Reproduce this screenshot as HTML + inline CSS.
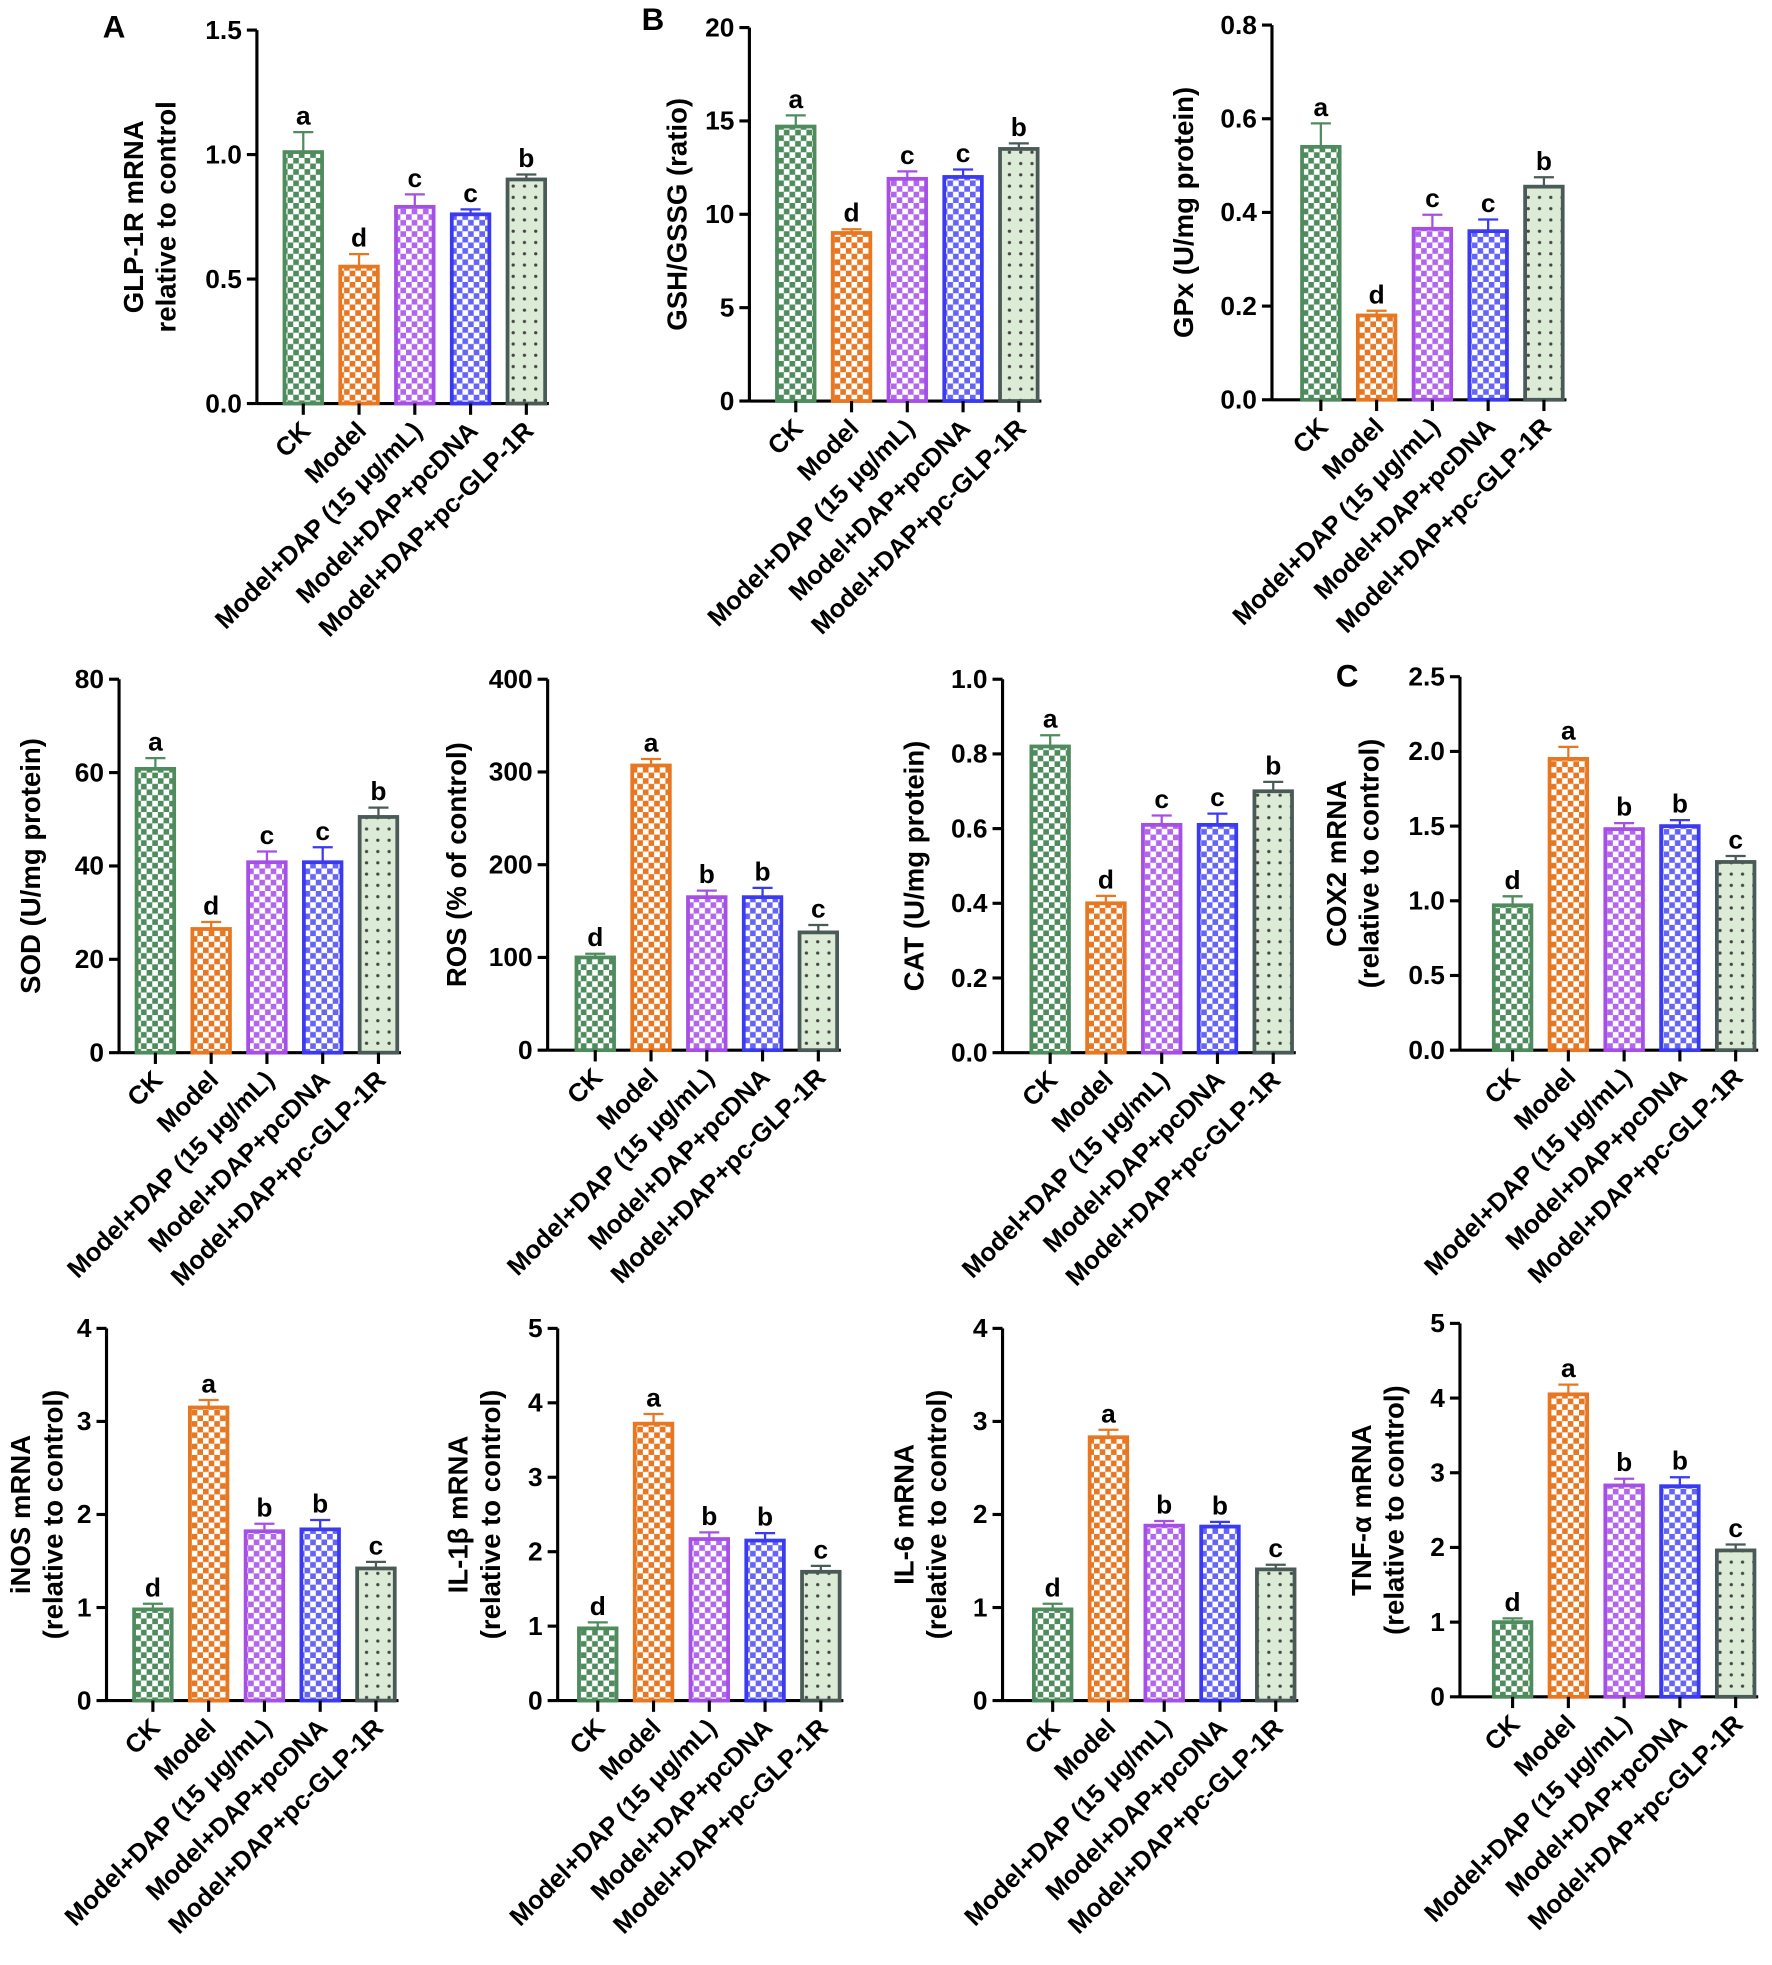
<!DOCTYPE html>
<html><head><meta charset="utf-8"><style>
html,body{margin:0;padding:0;background:#fff}
svg{display:block}
text{font-family:"Liberation Sans",Arial,sans-serif;font-weight:bold;fill:#000}
</style></head><body>
<svg id="fig" width="1772" height="1965" viewBox="0 0 1414 1568" xmlns="http://www.w3.org/2000/svg">
<defs>
<pattern id="p0" width="9" height="9" patternUnits="userSpaceOnUse"><rect width="9" height="9" fill="#fff"/><rect width="4.5" height="4.5" fill="#4e8c5e"/><rect x="4.5" y="4.5" width="4.5" height="4.5" fill="#4e8c5e"/></pattern>
<pattern id="p1" width="9" height="9" patternUnits="userSpaceOnUse"><rect width="9" height="9" fill="#fff"/><rect width="4.5" height="4.5" fill="#e87722"/><rect x="4.5" y="4.5" width="4.5" height="4.5" fill="#e87722"/></pattern>
<pattern id="p2" width="9" height="9" patternUnits="userSpaceOnUse"><rect width="9" height="9" fill="#fff"/><rect width="4.5" height="4.5" fill="#b266ee"/><rect x="4.5" y="4.5" width="4.5" height="4.5" fill="#b266ee"/></pattern>
<pattern id="p3" width="9" height="9" patternUnits="userSpaceOnUse"><rect width="9" height="9" fill="#fff"/><rect width="4.5" height="4.5" fill="#6464f6"/><rect x="4.5" y="4.5" width="4.5" height="4.5" fill="#6464f6"/></pattern>
<pattern id="p4" width="9" height="9" patternUnits="userSpaceOnUse"><rect width="9" height="9" fill="#dcebd6"/><circle cx="4.5" cy="4.5" r="1.3" fill="#444"/></pattern>
</defs>
<text x="82" y="30" font-size="25">A</text>
<text x="512" y="24" font-size="25">B</text>
<text x="1066" y="548" font-size="25">C</text>
</svg>
<script>
const categories = ["CK","Model","Model+DAP (15 μg/mL)","Model+DAP+pcDNA","Model+DAP+pc-GLP-1R"];
const glpValues = [1.01,0.55,0.79,0.76,0.90];
const glpErrors = [0.08,0.05,0.05,0.02,0.02];
const glpLetters = ["a","d","c","c","b"];
const gshValues = [14.7,9.0,11.9,12.0,13.5];
const gshErrors = [0.6,0.2,0.4,0.4,0.3];
const gshLetters = ["a","d","c","c","b"];
const gpxValues = [0.54,0.18,0.365,0.36,0.455];
const gpxErrors = [0.05,0.01,0.03,0.025,0.02];
const gpxLetters = ["a","d","c","c","b"];
const sodValues = [60.8,26.5,40.8,40.8,50.5];
const sodErrors = [2.3,1.5,2.3,3.2,2.0];
const sodLetters = ["a","d","c","c","b"];
const rosValues = [100,307,165,165,127];
const rosErrors = [4,7,7,10,8];
const rosLetters = ["d","a","b","b","c"];
const catValues = [0.82,0.40,0.61,0.61,0.70];
const catErrors = [0.03,0.02,0.025,0.03,0.025];
const catLetters = ["a","d","c","c","b"];
const coxValues = [0.97,1.95,1.48,1.50,1.26];
const coxErrors = [0.06,0.08,0.04,0.04,0.04];
const coxLetters = ["d","a","b","b","c"];
const inosValues = [0.98,3.15,1.82,1.84,1.42];
const inosErrors = [0.06,0.08,0.08,0.1,0.07];
const inosLetters = ["d","a","b","b","c"];
const il1Values = [0.97,3.72,2.17,2.15,1.73];
const il1Errors = [0.08,0.13,0.09,0.1,0.08];
const il1Letters = ["d","a","b","b","c"];
const il6Values = [0.98,2.83,1.88,1.87,1.41];
const il6Errors = [0.06,0.08,0.05,0.05,0.05];
const il6Letters = ["d","a","b","b","c"];
const tnfValues = [1.0,4.05,2.83,2.82,1.96];
const tnfErrors = [0.05,0.13,0.09,0.12,0.08];
const tnfLetters = ["d","a","b","b","c"];
const glpTicks = ["0.0","0.5","1.0","1.5"];
const gshTicks = ["0","5","10","15","20"];
const gpxTicks = ["0.0","0.2","0.4","0.6","0.8"];
const sodTicks = ["0","20","40","60","80"];
const rosTicks = ["0","100","200","300","400"];
const catTicks = ["0.0","0.2","0.4","0.6","0.8","1.0"];
const coxTicks = ["0.0","0.5","1.0","1.5","2.0","2.5"];
const inosTicks = ["0","1","2","3","4"];
const il1Ticks = ["0","1","2","3","4","5"];
const il6Ticks = ["0","1","2","3","4"];
const tnfTicks = ["0","1","2","3","4","5"];

const strokes = ["#4e8c5e","#e87722","#a64fe6","#3a3af0","#4a5a56"];
const NS = "http://www.w3.org/2000/svg";
const svg = document.getElementById('fig');
function mk(tag, attrs, parent){const e=document.createElementNS(NS,tag);for(const k in attrs)e.setAttribute(k,attrs[k]);(parent||svg).appendChild(e);return e;}

function panel(cfg){
  const g = mk('g',{});
  
  
  const ticks = cfg.ticks, max = parseFloat(ticks[ticks.length-1]);
  const y = v => cfg.y0 - (v/max)*(cfg.y0-cfg.yTop);
  const x = i => cfg.x1 + i*44.5;
  const right = x(4)+18;
  const ya = mk('line',{x1:cfg.ax,y1:cfg.yTop,x2:cfg.ax,y2:cfg.y0,stroke:'#000','stroke-width':2.5},g);
  
  
  const xa = mk('line',{x1:cfg.ax,y1:cfg.y0,x2:right,y2:cfg.y0,stroke:'#000','stroke-width':2.5},g);
  
  
  ticks.forEach(t=>{
    const yy = y(parseFloat(t));
    mk('line',{x1:cfg.ax-8,y1:yy,x2:cfg.ax,y2:yy,stroke:'#000','stroke-width':2.5},g);
    const tl = mk('text',{x:cfg.ax-12,y:yy+7,'font-size':21,'text-anchor':'end'},g);
    tl.textContent = t;
    
    
  });
  const lines = cfg.title;
  const tx = cfg.ax - cfg.titleOff, ty = (cfg.yTop+cfg.y0)/2;
  lines.forEach((ln,k)=>{
    const off = (k - (lines.length-1)/2)*26;
    const tt = mk('text',{x:0,y:0,'font-size':22,'text-anchor':'middle',transform:`translate(${tx+off+7},${ty}) rotate(-90)`},g);
    tt.textContent = ln;
    
    
  });
  cfg.values.forEach((v,i)=>{
    const cx = x(i), bw = 30;
    const top = y(v), eTop = y(v+cfg.errors[i]);
    const el = mk('line',{x1:cx,y1:top,x2:cx,y2:eTop,stroke:strokes[i],'stroke-width':1.8},g);
    
    
    mk('line',{x1:cx-8,y1:eTop,x2:cx+8,y2:eTop,stroke:strokes[i],'stroke-width':1.8},g);
    const b = mk('rect',{x:cx-bw/2,y:top,width:bw,height:cfg.y0-top,fill:`url(#p${i})`,stroke:strokes[i],'stroke-width':3},g);
    
    
    const lt = mk('text',{x:cx,y:eTop-6,'font-size':21,'text-anchor':'middle'},g);
    lt.textContent = cfg.letters[i];
    
    
    mk('line',{x1:cx,y1:cfg.y0,x2:cx,y2:cfg.y0+9,stroke:'#000','stroke-width':2.5},g);
    const cl = mk('text',{x:0,y:0,'font-size':20.5,'text-anchor':'end',transform:`translate(${cx+7},${cfg.y0+23}) rotate(-45)`},g);
    cl.textContent = categories[i];
    
    
  });
}
panel({name:'glp1r',ax:205,yTop:24,y0:322,x1:242,ticks:glpTicks,values:glpValues,errors:glpErrors,letters:glpLetters,title:['GLP-1R mRNA','relative to control'],titleOff:85});
panel({name:'gsh-gssg',ax:598,yTop:22,y0:320,x1:635,ticks:gshTicks,values:gshValues,errors:gshErrors,letters:gshLetters,title:['GSH/GSSG (ratio)'],titleOff:57});
panel({name:'gpx',ax:1015,yTop:20,y0:319,x1:1054,ticks:gpxTicks,values:gpxValues,errors:gpxErrors,letters:gpxLetters,title:['GPx  (U/mg protein)'],titleOff:70});
panel({name:'sod',ax:95,yTop:542,y0:840,x1:124,ticks:sodTicks,values:sodValues,errors:sodErrors,letters:sodLetters,title:['SOD (U/mg protein)'],titleOff:70});
panel({name:'ros',ax:437,yTop:542,y0:838,x1:475,ticks:rosTicks,values:rosValues,errors:rosErrors,letters:rosLetters,title:['ROS (% of control)'],titleOff:72});
panel({name:'cat',ax:800,yTop:542,y0:840,x1:838,ticks:catTicks,values:catValues,errors:catErrors,letters:catLetters,title:['CAT  (U/mg protein)'],titleOff:70});
panel({name:'cox2',ax:1165,yTop:540,y0:838,x1:1207,ticks:coxTicks,values:coxValues,errors:coxErrors,letters:coxLetters,title:['COX2 mRNA','(relative to control)'],titleOff:85});
panel({name:'inos',ax:85,yTop:1060,y0:1357,x1:122,ticks:inosTicks,values:inosValues,errors:inosErrors,letters:inosLetters,title:['iNOS mRNA','(relative to control)'],titleOff:55});
panel({name:'il1b',ax:445,yTop:1060,y0:1357,x1:477,ticks:il1Ticks,values:il1Values,errors:il1Errors,letters:il1Letters,title:['IL-1β mRNA','(relative to control)'],titleOff:66});
panel({name:'il6',ax:800,yTop:1060,y0:1357,x1:840,ticks:il6Ticks,values:il6Values,errors:il6Errors,letters:il6Letters,title:['IL-6 mRNA','(relative to control)'],titleOff:65});
panel({name:'tnfa',ax:1165,yTop:1056,y0:1354,x1:1207,ticks:tnfTicks,values:tnfValues,errors:tnfErrors,letters:tnfLetters,title:['TNF-α mRNA','(relative to control)'],titleOff:65});
</script>
</body></html>
